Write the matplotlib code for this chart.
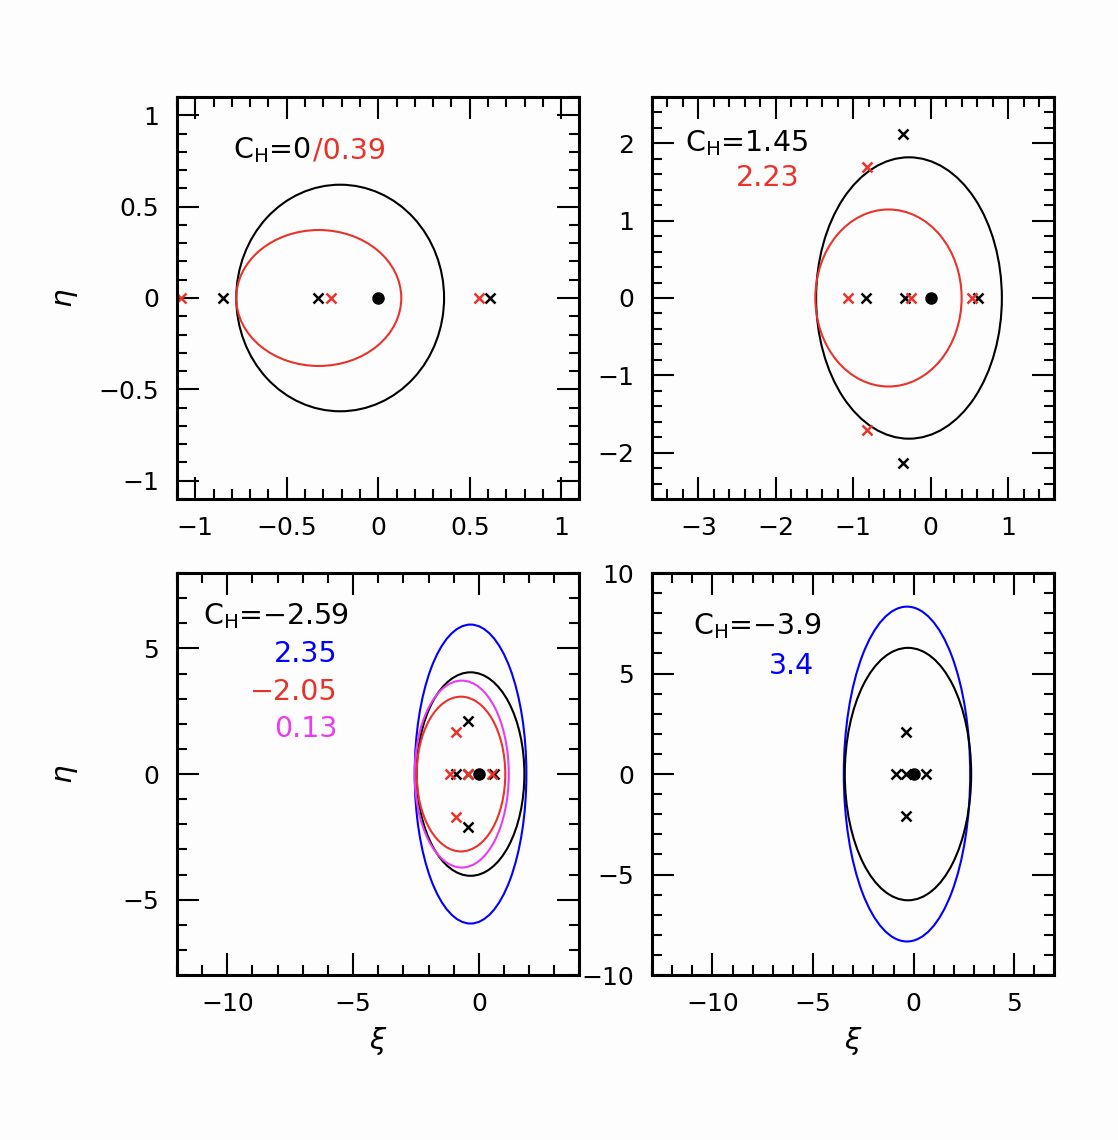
import matplotlib
matplotlib.use('Agg')
import matplotlib.pyplot as plt
from matplotlib.patches import Ellipse
from matplotlib.ticker import MultipleLocator, FuncFormatter

RED = '#e8332a'
BLUE = '#0000ff'
MAG = '#e83cf0'

# zero-velocity curves: (xi centre, half width, half height, colour)
tl_curves = [(-0.208, 0.568, 0.62, 'k'), (-0.325, 0.451, 0.372, RED)]
tr_curves = [(-0.28, 1.20, 1.82, 'k'), (-0.545, 0.945, 1.145, RED)]
bl_curves = [(-0.33, 2.22, 5.95, BLUE), (-0.33, 2.14, 4.05, 'k'),
             (-0.68, 1.87, 3.72, MAG), (-0.71, 1.76, 3.08, RED)]
br_curves = [(-0.33, 3.14, 8.33, BLUE), (-0.28, 3.14, 6.28, 'k')]

# equilibrium points (crosses)
tl_black_xi = [-0.85, -0.33, 0.61]
tl_black_eta = [0, 0, 0]
tl_red_xi = [-1.08, -0.26, 0.55]
tl_red_eta = [0, 0, 0]

tr_black_xi = [-0.83, -0.33, 0.615, -0.36, -0.36]
tr_black_eta = [0, 0, 0, 2.12, -2.13]
tr_red_xi = [-1.07, -0.26, 0.54, -0.82, -0.82]
tr_red_eta = [0, 0, 0, 1.70, -1.71]

bl_black_xi = [-0.89, -0.42, 0.62, -0.44, -0.44]
bl_black_eta = [0, 0, 0, 2.1, -2.1]
bl_red_xi = [-1.16, -0.42, 0.53, -0.9, -0.9]
bl_red_eta = [0, 0, 0, 1.69, -1.69]

br_black_xi = [-0.86, -0.36, 0.63, -0.36, -0.36]
br_black_eta = [0, 0, 0, 2.1, -2.1]
br_red_xi = []
br_red_eta = []

fig = plt.figure(figsize=(11.18, 11.4), dpi=100)
fig.patch.set_facecolor('#fdfdfd')

def fmt(v, pos):
    s = '%g' % round(v, 6)
    return s.replace('-', '\u2212')

W = 0.3600
H = 0.3526
panels = [
    # left, bottom, xlim, ylim, major, minor, curves, crosses
    (0.1583, 0.5623, (-1.1, 1.1), (-1.1, 1.1), 0.5, 0.1, tl_curves,
     (tl_black_xi, tl_black_eta, tl_red_xi, tl_red_eta)),
    (0.5832, 0.5623, (-3.6, 1.6), (-2.6, 2.6), 1, 0.2, tr_curves,
     (tr_black_xi, tr_black_eta, tr_red_xi, tr_red_eta)),
    (0.1583, 0.1447, (-12, 4), (-8, 8), 5, 1, bl_curves,
     (bl_black_xi, bl_black_eta, bl_red_xi, bl_red_eta)),
    (0.5832, 0.1447, (-13, 7), (-10, 10), 5, 1, br_curves,
     (br_black_xi, br_black_eta, br_red_xi, br_red_eta)),
]

axes = []
for left, bottom, xl, yl, maj, mnr, curves, pts in panels:
    ax = fig.add_axes([left, bottom, W, H])
    ax.set_facecolor('#fdfdfd')
    for xc, hw, hh, c in curves:
        ax.add_patch(Ellipse((xc, 0), 2 * hw, 2 * hh, fill=False, ec=c, lw=1.5))
    bx, by, rx, ry = pts
    ax.plot(bx, by, 'x', color='k', ms=7, mew=1.8, ls='none')
    ax.plot(rx, ry, 'x', color=RED, ms=7, mew=1.8, ls='none')
    ax.plot([0], [0], 'o', color='k', ms=8)
    ax.set_xlim(xl)
    ax.set_ylim(yl)
    ax.xaxis.set_major_locator(MultipleLocator(maj))
    ax.xaxis.set_minor_locator(MultipleLocator(mnr))
    ax.yaxis.set_major_locator(MultipleLocator(maj))
    ax.yaxis.set_minor_locator(MultipleLocator(mnr))
    ax.xaxis.set_major_formatter(FuncFormatter(fmt))
    ax.yaxis.set_major_formatter(FuncFormatter(fmt))
    ax.tick_params(which='both', direction='in', top=True, right=True,
                   labelsize=18)
    ax.tick_params(axis='y', which='major', pad=13)
    ax.tick_params(axis='x', which='major', pad=12)
    ax.tick_params(which='major', length=16, width=1.5)
    ax.tick_params(which='minor', length=7, width=1.5)
    for s in ax.spines.values():
        s.set_linewidth(2.2)
    axes.append(ax)

ax_tl, ax_tr, ax_bl, ax_br = axes

fs = 20.5
t0 = ax_tl.text(0.139, 0.848, r'C$_\mathregular{H}$=0', transform=ax_tl.transAxes,
                fontsize=fs, va='baseline', ha='left')
# red part starts right after the black part
fig.canvas.draw()
x_end = ax_tl.transAxes.inverted().transform(
    (t0.get_window_extent().x1, 0))[0]
ax_tl.text(x_end + 0.005, 0.848, '/0.39', transform=ax_tl.transAxes, color=RED,
           fontsize=fs, va='baseline', ha='left')

ax_tr.text(0.082, 0.864, r'C$_\mathregular{H}$=1.45', transform=ax_tr.transAxes,
           fontsize=fs, va='baseline', ha='left')
ax_tr.text(0.367, 0.779, '2.23', transform=ax_tr.transAxes, color=RED,
           fontsize=fs, va='baseline', ha='right')

ax_bl.text(0.065, 0.873, r'C$_\mathregular{H}$=$-$2.59', transform=ax_bl.transAxes,
           fontsize=fs, va='baseline', ha='left')
ax_bl.text(0.40, 0.779, '2.35', transform=ax_bl.transAxes, color=BLUE,
           fontsize=fs, va='baseline', ha='right')
ax_bl.text(0.40, 0.684, '\u22122.05', transform=ax_bl.transAxes, color=RED,
           fontsize=fs, va='baseline', ha='right')
ax_bl.text(0.40, 0.593, '0.13', transform=ax_bl.transAxes, color=MAG,
           fontsize=fs, va='baseline', ha='right')

ax_br.text(0.102, 0.848, r'C$_\mathregular{H}$=$-$3.9', transform=ax_br.transAxes,
           fontsize=fs, va='baseline', ha='left')
ax_br.text(0.404, 0.749, '3.4', transform=ax_br.transAxes, color=BLUE,
           fontsize=fs, va='baseline', ha='right')

for ax in (ax_tl, ax_bl):
    ax.set_ylabel(r'$\eta$', fontsize=21)
    ax.yaxis.set_label_coords(-0.24, 0.5)
for ax in (ax_bl, ax_br):
    ax.set_xlabel(r'$\xi$', fontsize=21)
    ax.xaxis.set_label_coords(0.5, -0.125)

fig.savefig('out.png', dpi=100, facecolor=fig.get_facecolor())
